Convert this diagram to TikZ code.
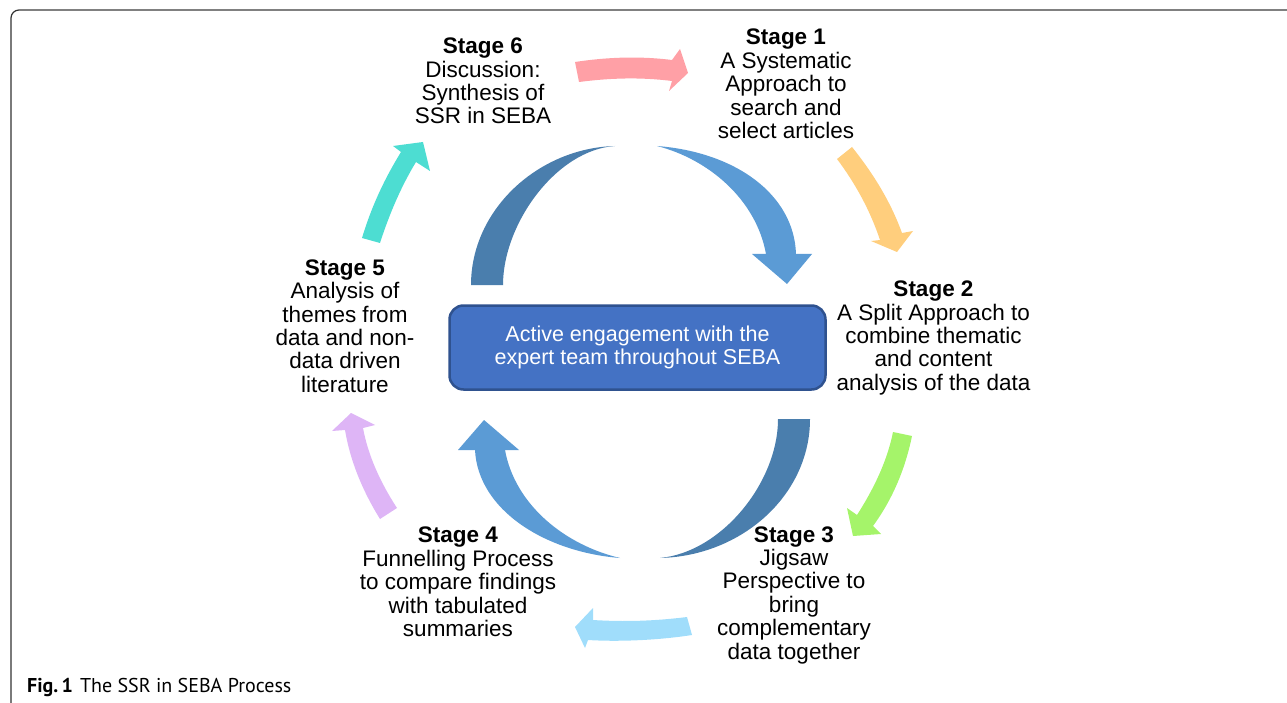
\documentclass[tikz,border=0pt]{standalone}
\usepackage{fontspec}
\setmainfont{Liberation Sans}
\newfontfamily\capfont{PT Sans}
\definecolor{darkarc}{HTML}{4A7EAD}
\definecolor{lightarc}{HTML}{5B9BD5}
\definecolor{boxfill}{HTML}{4472C4}
\definecolor{boxline}{HTML}{2F528F}
\definecolor{cpink}{HTML}{FFA0A6}
\definecolor{cyellow}{HTML}{FFCE7D}
\definecolor{cgreen}{HTML}{A5F46A}
\definecolor{cltblue}{HTML}{A0DDFB}
\definecolor{cpurple}{HTML}{DEB5F6}
\definecolor{cteal}{HTML}{4DDDD2}
\tikzset{
  stagetext/.style={align=center, font=\fontsize{22.5}{23.4}\selectfont, inner sep=0pt, text=black},
  flowarrow/.style={draw=none},
}
\begin{document}
\begin{tikzpicture}[x=1pt,y=-1pt]
\useasboundingbox (0,0) rectangle (1287,703);
% frame
\draw[line width=1.2pt, draw=black!80] (11,705) -- (11,18) arc[start angle=180, end angle=270, radius=8];
\draw[line width=2pt, draw=black!50] (19,10) -- (1290,10);
% big arcs
\fill[darkarc] (471,285) .. controls (471,209) and (539,148) .. (615,146) .. controls (556,150) and (503,224) .. (503,285) -- cycle;
\fill[lightarc] (657,146) .. controls (735,152) and (794,194) .. (796,254) -- (812,254) -- (787,284) -- (752,254) -- (766,254) .. controls (756,199) and (708,159) .. (657,146) -- cycle;
\fill[darkarc] (810,419) .. controls (810,495) and (742,556) .. (660,558) .. controls (722,552) and (778,482) .. (778,419) -- cycle;
\fill[lightarc] (620,558) .. controls (545,552) and (478,510) .. (475,450) -- (458,450) -- (484,420) -- (519,450) -- (505,450) .. controls (515,505) and (565,545) .. (620,558) -- cycle;
% small arrows
\fill[cpink] (575,62) .. controls (608,57) and (640,56) .. (672,60) -- (680,49) -- (688,73) -- (669,91) -- (672,81) .. controls (640,77) and (610,78) .. (579,82) -- cycle;
\fill[cyellow] (837,159) -- (852,147) .. controls (872,172) and (890,200) .. (902,233) -- (913,231) -- (897,252) -- (871,241) -- (880,240) .. controls (870,210) and (855,183) .. (837,159) -- cycle;
\fill[cgreen] (893,432) -- (912,436) .. controls (905,470) and (892,500) .. (873,526) -- (881,534) -- (853,536) -- (847,508) -- (857,515) .. controls (873,490) and (887,462) .. (893,432) -- cycle;
\fill[cltblue] (687,617) .. controls (655,621) and (625,622) .. (593,620) -- (593,608) -- (575,627) -- (585,648) -- (588,640) .. controls (620,642) and (660,640) .. (692,635) -- cycle;
\fill[cpurple] (380,519) .. controls (362,490) and (350,460) .. (345,430) -- (332,431) -- (351,413) -- (375,425) -- (363,428) .. controls (368,455) and (380,482) .. (397,508) -- cycle;
\fill[cteal] (362,238) .. controls (372,205) and (385,178) .. (401,152) -- (393,146) -- (423,142) -- (430,171) -- (416,162) .. controls (402,185) and (390,212) .. (380,243) -- cycle;
% centre box
\node[draw=boxline, fill=boxfill, line width=2.5pt, rounded corners=14pt, minimum width=376pt, minimum height=84pt, inner sep=0pt] (box) at (637.5,347.5) {};
\node[align=center, font=\fontsize{21.5}{23.4}\selectfont, text=white, inner sep=0pt] (boxtext) at (637.5,347.5) {Active engagement with the\\expert team throughout SEBA};
% stage texts
\node[stagetext] (s6) at (483,81) {\textbf{Stage 6}\\Discussion:\\Synthesis of\\SSR in SEBA};
\node[stagetext] (s1) at (786,84) {\textbf{Stage 1}\\A Systematic\\Approach to\\search and\\select articles};
\node[stagetext] (s2) at (933.5,338) {\textbf{Stage 2}\\A Split Approach to\\combine thematic\\and content\\analysis of the data};
\node[stagetext] (s3) at (794,595) {\textbf{Stage 3}\\Jigsaw\\Perspective to\\bring\\complementary\\data together};
\node[stagetext] (s4) at (458,582) {\textbf{Stage 4}\\Funnelling Process\\to compare findings\\with tabulated\\summaries};
\node[stagetext] (s5) at (345,326) {\textbf{Stage 5}\\Analysis of\\themes from\\data and non-\\data driven\\literature};
% caption
\node[anchor=base west, inner sep=0pt, font=\capfont\fontsize{20}{22}\selectfont] (cap) at (27,692) {\textbf{Fig.\,1}\hspace{7pt}The SSR in SEBA Process};
\end{tikzpicture}
\end{document}
